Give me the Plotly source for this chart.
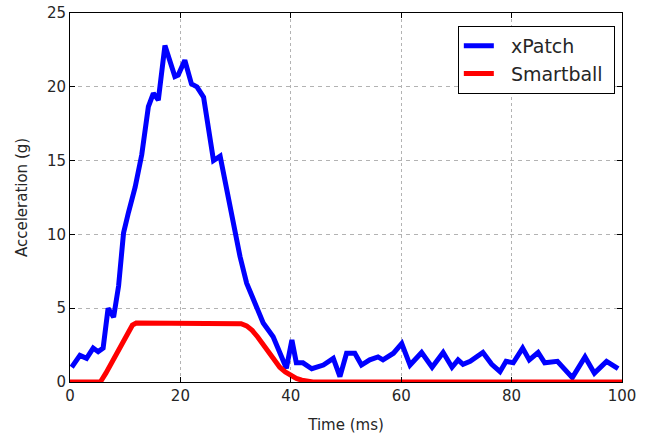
import plotly.graph_objects as go

# xPatch acceleration trace (time in ms, acceleration in g)
xpatch_t = [0.3, 1.8, 3.0, 4.2, 5.1, 6.0, 6.9, 7.9, 8.8, 9.7, 10.6, 11.8, 13.0,
            14.2, 15.1, 16.0, 17.2, 19.0, 19.6, 20.8, 22.0, 23.0, 24.2, 25.0,
            26.0, 27.2, 28.4, 29.6, 30.8, 32.0, 33.2, 35.0, 36.8, 38.6, 39.2,
            40.2, 41.0, 42.2, 43.8, 45.9, 47.7, 48.9, 50.1, 51.6, 52.8, 54.3,
            55.8, 56.7, 58.6, 60.1, 61.6, 63.7, 65.6, 67.6, 69.2, 70.3, 71.2,
            72.5, 74.8, 76.4, 77.9, 79.0, 80.3, 82.0, 83.2, 84.8, 86.0, 88.3,
            91.0, 93.3, 95.0, 97.2, 99.3]
xpatch_g = [1.0, 1.8, 1.6, 2.3, 2.05, 2.3, 5.0, 4.4, 6.5, 10.1, 11.5, 13.2, 15.4,
            18.65, 19.56, 19.1, 22.8, 20.7, 20.8, 21.8, 20.2, 20.0, 19.3, 17.5,
            15.0, 15.3, 13.0, 11.0, 8.5, 6.7, 5.55, 4.0, 3.07, 1.5, 0.93,
            2.85, 1.3, 1.3, 0.9, 1.15, 1.6, 0.36, 1.95, 1.95, 1.15, 1.5,
            1.7, 1.5, 1.95, 2.6, 1.15, 2.0, 1.0, 2.0, 1.0, 1.5, 1.2,
            1.4, 2.0, 1.2, 0.7, 1.4, 1.3, 2.3, 1.5, 2.0, 1.3, 1.4,
            0.3, 1.7, 0.6, 1.4, 0.9]

# Smartball acceleration trace
smart_t = [0, 5.5, 6.5, 7.5, 8.5, 9.5, 10.5, 11.3, 12.0, 30.0, 31.0, 32.0, 33.0,
           34.0, 35.0, 36.0, 37.0, 38.0, 39.0, 40.0, 41.0, 42.0, 43.0, 44.0, 100]
smart_g = [0, 0, 0.6, 1.3, 2.0, 2.7, 3.4, 3.85, 4.0, 4.0, 3.95, 3.8, 3.5,
           3.05, 2.5, 1.95, 1.45, 1.0, 0.68, 0.42, 0.24, 0.12, 0.05, 0.0, 0.0]

x_ticks = [0, 20, 40, 60, 80, 100]
y_ticks = [0, 5, 10, 15, 20, 25]

font = "DejaVu Sans, Arial, sans-serif"
text_color = "#262626"
pad = "\u00a0\u00a0"

fig = go.Figure()
fig.add_trace(go.Scatter(x=xpatch_t, y=xpatch_g, mode="lines", name=pad + "xPatch",
                         line=dict(color="#0000ff", width=5)))
fig.add_trace(go.Scatter(x=smart_t, y=smart_g, mode="lines", name=pad + "Smartball\u00a0",
                         line=dict(color="#ff0000", width=5)))

axis_common = dict(
    showline=True, linecolor="black", linewidth=1, mirror="ticks",
    ticks="inside", ticklen=5, tickcolor="black",
    showgrid=True, gridcolor="#b3b3b3", gridwidth=1, automargin=False,
    zeroline=False, tickfont=dict(family=font, size=15, color=text_color),
)

fig.update_xaxes(range=[0, 100], tickvals=x_ticks, griddash="3px,3px",
                 title=dict(text="Time (ms)", font=dict(family=font, size=15, color=text_color)),
                 **axis_common)
fig.update_yaxes(range=[0, 25], tickvals=y_ticks, griddash="4px,4px",
                 title=dict(text="Acceleration (g)", font=dict(family=font, size=15, color=text_color)),
                 **axis_common)

fig.update_layout(
    width=649, height=434,
    margin=dict(l=70, r=27, t=13, b=52),
    plot_bgcolor="white", paper_bgcolor="white",
    legend=dict(x=0.987, y=0.965, xanchor="right", yanchor="top",
                bordercolor="black", borderwidth=1, bgcolor="white",
                font=dict(family=font, size=19, color=text_color),
                itemwidth=30),
    showlegend=True,
)

fig.write_html("out.html")
